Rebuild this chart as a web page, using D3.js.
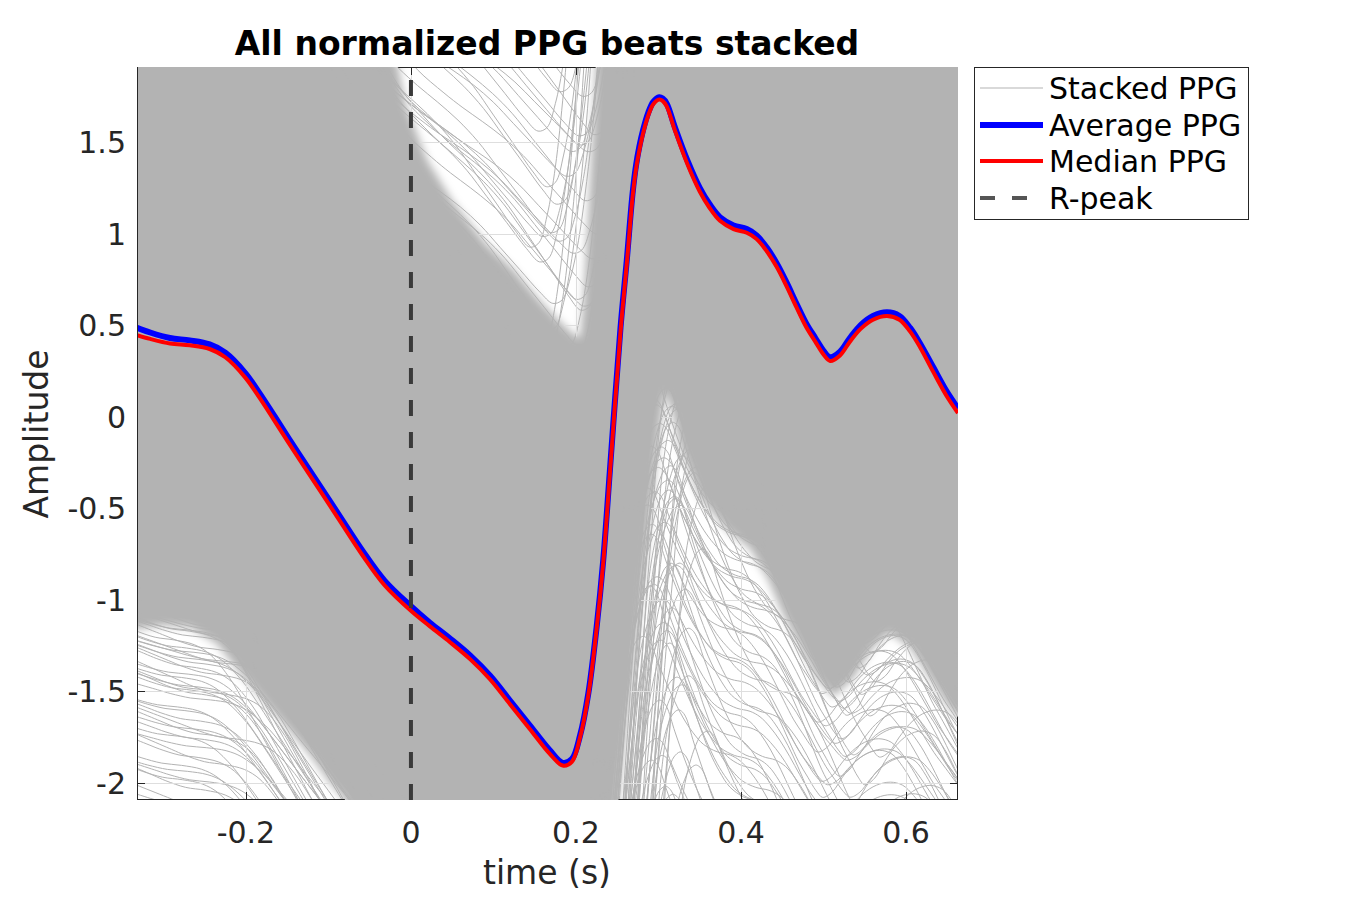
<!DOCTYPE html>
<html><head><meta charset="utf-8">
<script src="https://cdn.jsdelivr.net/npm/d3@7"></script>
<style>body{margin:0;background:#fff} svg{display:block} text{font-family:"DejaVu Sans",sans-serif}</style>
</head><body><svg id="c" width="1350" height="900"></svg>
<script>
// ---- data ----
const timeS = [-0.332,-0.316,-0.292,-0.268,-0.244,-0.225,-0.201,-0.183,-0.165,-0.135,-0.110,-0.086,-0.059,-0.032,0,0.023,0.047,0.072,0.096,0.120,0.144,0.168,0.184,0.195,0.205,0.215,0.225,0.233,0.241,0.254,0.2615,0.2685,0.2727,0.2768,0.2816,0.2876,0.2937,0.301,0.305,0.310,0.320,0.335,0.350,0.362,0.3745,0.391,0.407,0.419,0.431,0.443,0.455,0.467,0.479,0.490,0.500,0.508,0.520,0.532,0.545,0.560,0.577,0.592,0.605,0.617,0.633,0.649,0.663];
const averagePPG = [0.486,0.46,0.43,0.417,0.395,0.35,0.24,0.125,0,-0.21,-0.38,-0.545,-0.73,-0.895,-1.035,-1.125,-1.21,-1.305,-1.415,-1.55,-1.685,-1.82,-1.89,-1.87,-1.74,-1.51,-1.15,-0.785,-0.30,0.487,0.851,1.215,1.37,1.475,1.57,1.66,1.72,1.745,1.738,1.71,1.58,1.40,1.25,1.16,1.09,1.045,1.025,0.99,0.925,0.84,0.735,0.62,0.51,0.43,0.36,0.325,0.355,0.43,0.50,0.55,0.57,0.55,0.485,0.40,0.27,0.14,0.045];
const medianPPG  = [0.446,0.425,0.40,0.39,0.37,0.325,0.215,0.10,-0.025,-0.235,-0.405,-0.57,-0.755,-0.92,-1.06,-1.145,-1.23,-1.325,-1.435,-1.57,-1.705,-1.84,-1.905,-1.885,-1.75,-1.52,-1.16,-0.80,-0.32,0.465,0.83,1.195,1.35,1.455,1.552,1.645,1.707,1.733,1.725,1.695,1.562,1.38,1.23,1.14,1.07,1.025,1.005,0.97,0.905,0.82,0.715,0.60,0.49,0.41,0.34,0.305,0.335,0.41,0.48,0.53,0.55,0.53,0.465,0.38,0.245,0.115,0.02];

// outlying stacked beats seen in the sparse areas: amplitude offset, amplitude scale, time shift
const stackedOffsets = [-1.45,-1.47,-1.50,-1.52,-1.55,-1.57,-1.60,-1.62,-1.65,-1.68,-1.70,-1.73,-1.76,-1.79,-1.82,-1.85,-1.88,-1.91,-1.95,-1.98,-2.02,-2.06,-2.10,-2.14,-2.18,-2.22,-2.27,-2.32,-2.37,-2.42,-2.48,-2.54,-2.60,-2.66,-2.72,-2.79,-2.86,-2.93,-3.0,-3.08,-3.16,-3.24,-3.33,-3.42,-3.52,-3.62,-3.72,-3.85,
  -1.48,-1.53,-1.58,-1.63,-1.67,-1.72,-1.77,-1.83,-1.89,-1.96,-2.04,-2.12,-2.2,-2.3,-2.4,-2.52,-2.64,-2.77,-2.9,-3.05,-3.2,-3.38,-3.56,-3.75,
  2.28,2.32,2.36,2.40,2.45,2.50,2.55,2.60,2.66,2.72,2.78,2.85,2.92,2.99,3.07,3.15,3.24,3.33,3.43,3.53,3.64,3.76,3.90,
  2.34,2.47,2.58,2.70,2.83,2.96,3.10,3.28,3.45,3.62];
const stackedScales = [1.0,0.9,1.1,0.85,1.05,1.15,0.95,0.8,1.2,1.0,0.9,1.1,0.85,1.05,0.95,1.15,0.8,1.0,1.1,0.9,1.2,0.85,1.05,0.95,1.0,1.15,0.8,1.1,0.9,1.05,0.85,1.2,0.95,1.0,1.1,0.9,0.8,1.15,1.05,0.95,1.0,0.85,1.2,0.9,1.1,1.0,0.95,1.05,
  0.75,1.25,0.9,1.1,0.8,1.2,1.0,0.85,1.15,0.9,1.25,0.75,1.05,0.95,1.2,0.8,1.1,0.9,1.0,1.15,0.85,1.05,0.95,1.1,
  1.0,0.9,1.1,0.95,1.05,0.85,1.15,1.0,0.9,1.1,0.95,1.2,0.85,1.05,1.0,0.9,1.1,0.95,1.15,0.85,1.0,1.05,0.9,
  1.1,0.85,1.2,0.9,1.05,0.8,1.15,0.95,1.0,1.1];
const stackedShifts = [0.012,-0.008,0.02,0.0,0.026,-0.012,0.015,0.005,0.03,-0.004,0.01,0.034,-0.002,0.022,-0.01,0.008,0.025,0.002,0.016,-0.006,0.02,0.006,0.013,-0.015,0.018,0.028,-0.003,0.011,0.024,-0.009,0.004,0.019,0.031,-0.007,0.014,0.001,0.027,-0.012,0.009,0.021,0.035,-0.004,0.012,0.003,0.023,-0.01,0.016,0.007,
  0.04,-0.02,0.05,0.0,0.045,-0.018,0.055,0.01,0.038,-0.015,0.048,0.02,0.06,-0.01,0.042,0.005,0.052,-0.02,0.035,0.015,0.058,0.0,0.044,0.025,
  0.018,-0.012,0.008,0.025,-0.02,0.012,0.0,0.03,-0.006,0.016,-0.025,0.022,0.004,-0.015,0.027,0.01,-0.008,0.019,-0.02,0.006,0.024,-0.004,0.014,
  -0.03,0.035,-0.035,0.04,-0.028,0.03,-0.04,0.02,-0.03,0.038];

// sparse (mostly white) areas of the stacked-beat cloud
const lowerLeftT  = [-0.36,-0.332,-0.30,-0.268,-0.235,-0.207,-0.179,-0.150,-0.122,-0.098,-0.080,-0.074,-0.36];
const lowerLeftV  = [-1.16,-1.16,-1.14,-1.15,-1.24,-1.40,-1.55,-1.70,-1.85,-2.00,-2.09,-2.25,-2.25];
const lowerRightT = [0.250,0.263,0.276,0.285,0.293,0.301,0.308,0.316,0.326,0.35,0.383,0.411,0.432,0.451,0.472,0.492,0.512,0.536,0.56,0.58,0.605,0.629,0.65,0.68,0.68,0.248];
const lowerRightV = [-2.15,-1.62,-1.12,-0.76,-0.42,-0.1,0.14,0.04,-0.16,-0.44,-0.62,-0.72,-0.88,-1.08,-1.26,-1.43,-1.53,-1.43,-1.26,-1.18,-1.26,-1.43,-1.58,-1.72,-2.25,-2.25];
const upperWedgeT = [-0.022,-0.006,0.02,0.05,0.09,0.125,0.157,0.185,0.200,0.205,0.209,0.214,0.219,0.223,0.225];
const upperWedgeV = [2.05,1.7,1.4,1.18,0.95,0.8,0.63,0.5,0.44,0.43,0.62,1.03,1.45,1.8,2.05];

const xTicks = [-0.2,0,0.2,0.4,0.6];
const xTickLabels = ["-0.2","0","0.2","0.4","0.6"];
const yTicks = [-2,-1.5,-1,-0.5,0,0.5,1,1.5];
const yTickLabels = ["-2","-1.5","-1","-0.5","0","0.5","1","1.5"];
const legendLabels = ["Stacked PPG","Average PPG","Median PPG","R-peak"];
const xDomain = [-0.332,0.663];
const yDomain = [-2.093,1.91];

// ---- drawing ----
const svg = d3.select("#c");
const L=137, R=958, T=67, B=800;
const x = d3.scaleLinear().domain(xDomain).range([L,R]);
const y = d3.scaleLinear().domain(yDomain).range([B,T]);
const axisCol = "#262626", cloud = "#b3b3b3";

const defs = svg.append("defs");
defs.append("clipPath").attr("id","plot").append("rect").attr("x",L).attr("y",T).attr("width",R-L).attr("height",B-T);
defs.append("filter").attr("id","soft").attr("x","-20%").attr("y","-20%").attr("width","140%").attr("height","140%")
  .append("feGaussianBlur").attr("stdDeviation",4);
const poly = (ts,vs)=> d3.line().x(d=>x(d[0])).y(d=>y(d[1]))(ts.map((t,i)=>[t,vs[i]])) + "Z";
const whites = [poly(lowerLeftT,lowerLeftV), poly(lowerRightT,lowerRightV), poly(upperWedgeT,upperWedgeV)];
const wc = defs.append("clipPath").attr("id","white");
whites.forEach(d=>wc.append("path").attr("d",d));

// dense cloud
svg.append("rect").attr("x",L).attr("y",T).attr("width",R-L).attr("height",B-T).attr("fill",cloud);
const gp = svg.append("g").attr("clip-path","url(#plot)");
const gwhite = gp.append("g").attr("filter","url(#soft)");
whites.forEach(d=>gwhite.append("path").attr("d",d).attr("fill","#fff"));

// grid + box + ticks (only visible through sparse areas)
const gw = svg.append("g").attr("clip-path","url(#white)");
xTicks.forEach(t=>gw.append("line").attr("x1",Math.round(x(t))+0.5).attr("x2",Math.round(x(t))+0.5).attr("y1",T).attr("y2",B).attr("stroke","#dedede"));
yTicks.forEach(v=>gw.append("line").attr("y1",Math.round(y(v))+0.5).attr("y2",Math.round(y(v))+0.5).attr("x1",L).attr("x2",R).attr("stroke","#dedede"));
gw.append("rect").attr("x",L+0.5).attr("y",T+0.5).attr("width",R-L-1).attr("height",B-T-1).attr("fill","none").attr("stroke",axisCol);
xTicks.forEach(t=>{const xx=Math.round(x(t))+0.5;
  gw.append("line").attr("x1",xx).attr("x2",xx).attr("y1",B).attr("y2",B-8).attr("stroke",axisCol);
  gw.append("line").attr("x1",xx).attr("x2",xx).attr("y1",T).attr("y2",T+8).attr("stroke",axisCol);});
yTicks.forEach(v=>{const yy=Math.round(y(v))+0.5;
  gw.append("line").attr("y1",yy).attr("y2",yy).attr("x1",L).attr("x2",L+8).attr("stroke",axisCol);
  gw.append("line").attr("y1",yy).attr("y2",yy).attr("x1",R).attr("x2",R-8).attr("stroke",axisCol);});

// stacked beats
const curve = d3.curveCatmullRom.alpha(0.5);
const line = d3.line().x(d=>x(d[0])).y(d=>y(d[1])).curve(curve);
stackedOffsets.forEach((dv,k)=>{
  const s = stackedScales[k], dt = stackedShifts[k];
  const pts = timeS.map((t,i)=>[t+dt, averagePPG[i]*s+dv]);
  const n = pts.length;
  const s0 = (pts[1][1]-pts[0][1])/(pts[1][0]-pts[0][0]);
  const s1 = (pts[n-1][1]-pts[n-2][1])/(pts[n-1][0]-pts[n-2][0]);
  pts.unshift([pts[0][0]-0.06, pts[0][1]-s0*0.06]);
  pts.push([pts[n][0]+0.06, pts[n][1]+s1*0.06]);
  gp.append("path").attr("d",line(pts)).attr("fill","none").attr("stroke",cloud).attr("stroke-width",1);
});
// average & median
gp.append("path").attr("d",line(timeS.map((t,i)=>[t,averagePPG[i]]))).attr("fill","none").attr("stroke","#0000ff").attr("stroke-width",6);
gp.append("path").attr("d",line(timeS.map((t,i)=>[t,medianPPG[i]]))).attr("fill","none").attr("stroke","#ff0000").attr("stroke-width",4);
// R-peak
svg.append("line").attr("x1",x(0)).attr("x2",x(0)).attr("y1",y(yDomain[0])).attr("y2",y(yDomain[1]))
  .attr("stroke","#3a3a3a").attr("stroke-width",4).attr("stroke-dasharray","16,16");
// left axis line on top
svg.append("line").attr("x1",L+0.5).attr("x2",L+0.5).attr("y1",T).attr("y2",B).attr("stroke",axisCol);

// tick labels
xTicks.forEach((t,i)=>svg.append("text").attr("x",x(t)).attr("y",843).attr("text-anchor","middle")
  .attr("font-size",30).attr("fill",axisCol).text(xTickLabels[i]));
yTicks.forEach((v,i)=>svg.append("text").attr("x",126).attr("y",y(v)+11).attr("text-anchor","end")
  .attr("font-size",30).attr("fill",axisCol).text(yTickLabels[i]));
// axis labels & title
svg.append("text").attr("x",547).attr("y",884).attr("text-anchor","middle").attr("font-size",33).attr("fill",axisCol).text("time (s)");
svg.append("text").attr("transform","translate(48,434) rotate(-90)").attr("text-anchor","middle").attr("font-size",33).attr("fill",axisCol).text("Amplitude");
svg.append("text").attr("x",547).attr("y",55).attr("text-anchor","middle").attr("font-size",33).attr("font-weight","bold").attr("fill","#000").text("All normalized PPG beats stacked");

// legend
const lg = svg.append("g");
lg.append("rect").attr("x",974.5).attr("y",67.5).attr("width",274).attr("height",152).attr("fill","#fff").attr("stroke",axisCol);
const rowsY = [88,125,161,198];
const styles = [{c:cloud,w:1,d:null},{c:"#0000ff",w:6,d:null},{c:"#ff0000",w:4,d:null},{c:"#555",w:4,d:"15,17"}];
legendLabels.forEach((lab,i)=>{
  lg.append("line").attr("x1",980).attr("x2",1043).attr("y1",rowsY[i]).attr("y2",rowsY[i])
    .attr("stroke",styles[i].c).attr("stroke-width",styles[i].w).attr("stroke-dasharray",styles[i].d);
  lg.append("text").attr("x",1049).attr("y",rowsY[i]+11).attr("font-size",30).attr("fill","#000").text(lab);
});
</script></body></html>
